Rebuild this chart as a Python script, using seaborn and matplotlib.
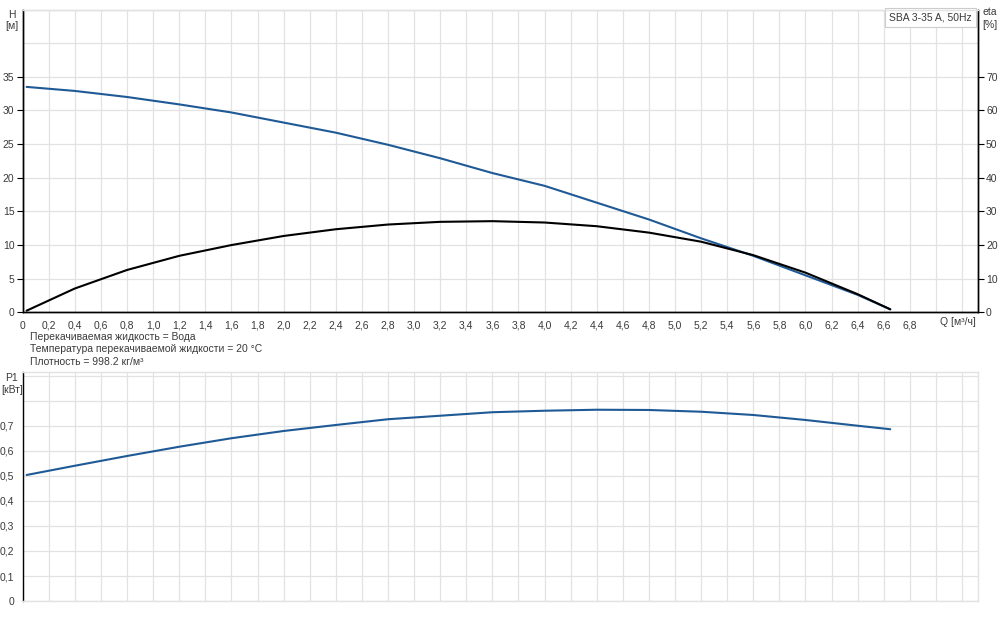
import numpy as np
import pandas as pd
import matplotlib
matplotlib.use('Agg')
import matplotlib.pyplot as plt
import seaborn as sns

# Рабочая характеристика насоса SBA 3-35 A, 50Hz
q = [0.03, 0.4, 0.8, 1.2, 1.6, 2.0, 2.4, 2.8, 3.2, 3.6, 4.0, 4.4, 4.8, 5.2, 5.6, 6.0, 6.4, 6.65]
head = [33.5, 32.9, 32.0, 30.9, 29.7, 28.2, 26.7, 24.9, 22.9, 20.7, 18.8, 16.3, 13.8, 11.0, 8.4, 5.5, 2.6, 0.45]
eta = [0.5, 7.1, 12.6, 16.8, 20.0, 22.7, 24.7, 26.1, 26.9, 27.1, 26.7, 25.6, 23.7, 21.0, 17.0, 11.8, 5.4, 0.9]
p1 = [0.504, 0.541, 0.580, 0.617, 0.651, 0.680, 0.704, 0.727, 0.741, 0.755, 0.761, 0.765, 0.764, 0.757, 0.744, 0.724, 0.701, 0.687]

q_ticks = np.round(np.arange(0, 7.21, 0.2), 1)
q_labels = [f'{v:.1f}'.replace('.', ',') if v <= 6.8 else '' for v in q_ticks]
q_labels[0] = '0'
h_ticks = [0, 5, 10, 15, 20, 25, 30, 35]
eta_ticks = [0, 10, 20, 30, 40, 50, 60, 70]
p1_ticks = [0, 0.1, 0.2, 0.3, 0.4, 0.5, 0.6, 0.7, 0.8, 0.9]
p1_labels = ['0', '0,1', '0,2', '0,3', '0,4', '0,5', '0,6', '0,7', '', '']

notes = ['Перекачиваемая жидкость = Вода',
         'Температура перекачиваемой жидкости = 20 °C',
         'Плотность = 998.2 кг/м³']

df = pd.DataFrame({'Q': q, 'H': head, 'eta': eta, 'P1': p1})

sns.set_style('white')
plt.rcParams['font.family'] = ['Liberation Sans', 'DejaVu Sans']

blue = '#1f5a96'
grid_c = '#e2e2e2'
txt_c = '#3a3a3a'
fs = 7.5

fig = plt.figure(figsize=(10, 6.21), dpi=100)
ax = fig.add_axes([0.0227, 0.497, 0.955, 0.4877])
ax2 = ax.twinx()
axp = fig.add_axes([0.0227, 0.0322, 0.955, 0.3688])

# верхний график: напор и КПД
sns.lineplot(data=df, x='Q', y='H', ax=ax, color=blue, lw=1.5)
sns.lineplot(data=df, x='Q', y='eta', ax=ax2, color='black', lw=1.5)

ax.set_xlim(0, 7.32)
ax.set_ylim(0, 45)
ax2.set_ylim(0, 90)
ax.set_xticks(q_ticks)
ax.set_xticklabels(q_labels)
ax.set_yticks(h_ticks)
ax.set_yticks([40, 45], minor=True)
ax2.set_yticks(eta_ticks)
ax.set_xlabel('')
ax.set_ylabel('')
ax2.set_ylabel('')
ax.grid(which='both', color=grid_c, lw=0.9)
ax.set_axisbelow(True)
ax.tick_params(which='major', direction='out', length=4, width=0.8, colors='black',
               labelcolor=txt_c, labelsize=fs, pad=2)
ax.tick_params(which='minor', length=0)
ax2.tick_params(direction='out', length=4, width=0.8, colors='black',
                labelcolor=txt_c, labelsize=fs, pad=2)
for a in (ax, ax2):
    a.spines['top'].set_color(grid_c)
    a.spines['left'].set_color('black')
    a.spines['bottom'].set_color('black')
    a.spines['right'].set_color('black')
    for s in a.spines.values():
        s.set_linewidth(1.0)

ax.text(0.994, 0.99, 'SBA 3-35 A, 50Hz', transform=ax.transAxes, ha='right', va='top',
        fontsize=fs, color=txt_c,
        bbox=dict(boxstyle='square,pad=0.4', fc='white', ec='#cccccc', lw=0.8))

# нижний график: мощность P1
sns.lineplot(data=df, x='Q', y='P1', ax=axp, color=blue, lw=1.5)
axp.set_xlim(0, 7.32)
axp.set_ylim(0, 0.916)
axp.set_xticks(q_ticks)
axp.set_xticklabels([])
axp.set_yticks(p1_ticks)
axp.set_yticklabels(p1_labels)
axp.set_xlabel('')
axp.set_ylabel('')
axp.grid(color=grid_c, lw=0.9)
axp.set_axisbelow(True)
axp.tick_params(axis='x', length=0)
axp.tick_params(axis='y', direction='out', length=4, width=0.8, colors='black',
                labelcolor=txt_c, labelsize=fs, pad=2)
for name, s in axp.spines.items():
    s.set_color('black' if name == 'left' else grid_c)
    s.set_linewidth(1.0)

# подписи осей
W, H = 1000, 621
def ftext(x, y, s, **kw):
    fig.text(x / W, 1 - y / H, s, fontsize=fs, color=txt_c, **kw)

ftext(12, 15, 'H', ha='center', va='center')
ftext(12, 26, '[м]', ha='center', va='center')
ftext(990, 12, 'eta', ha='center', va='center')
ftext(990, 25, '[%]', ha='center', va='center')
ftext(958, 322, 'Q [м³/ч]', ha='center', va='center')
ftext(11, 378, 'P1', ha='center', va='center')
ftext(1, 390, '[кВт]', ha='left', va='center')
for i, line in enumerate(notes):
    ftext(30, 337 + 12.5 * i, line, ha='left', va='center')

fig.savefig('out.png', dpi=100)
